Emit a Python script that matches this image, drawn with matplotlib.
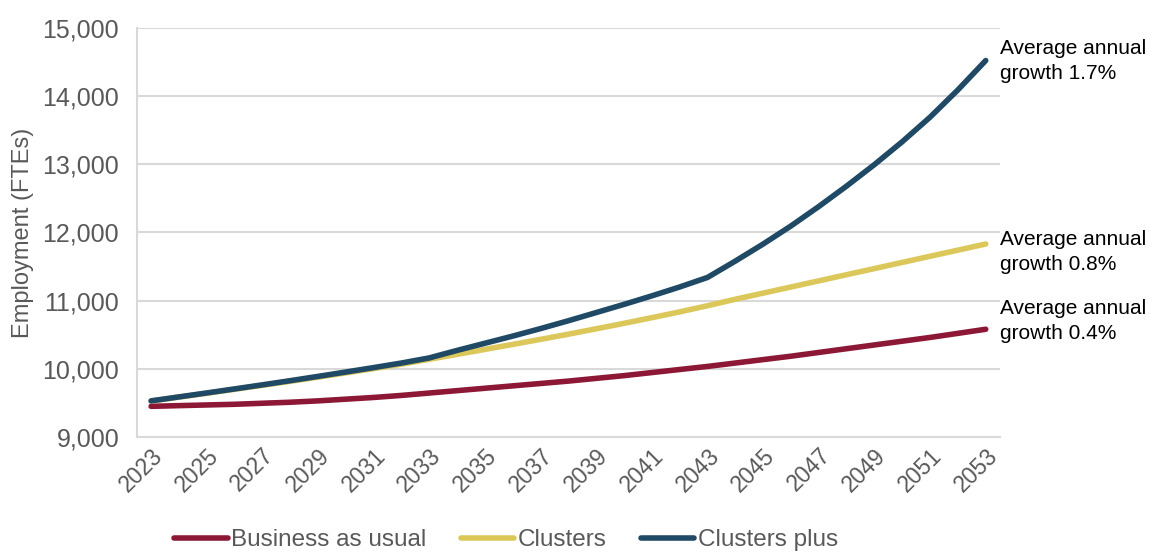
import matplotlib.pyplot as plt
from matplotlib.ticker import FuncFormatter, MultipleLocator

plt.rcParams['font.family'] = ['Liberation Sans', 'DejaVu Sans']

years = list(range(2023, 2054))

business_as_usual = [
    9450, 9460, 9470, 9480, 9495, 9510, 9530, 9555, 9580, 9610,
    9645, 9680, 9715, 9750, 9785, 9820, 9860, 9900, 9945, 9990,
    10035, 10085, 10135, 10185, 10240, 10295, 10350, 10405, 10460, 10520,
    10580,
]
clusters = [
    9528, 9585, 9642, 9700, 9758, 9817, 9878, 9940, 10003, 10068,
    10140, 10212, 10285, 10358, 10432, 10508, 10587, 10667, 10750, 10835,
    10925, 11020, 11110, 11200, 11290, 11380, 11470, 11560, 11650, 11740,
    11830,
]
clusters_plus = [
    9530, 9588, 9646, 9705, 9765, 9826, 9889, 9953, 10018, 10085,
    10160, 10270, 10375, 10480, 10590, 10705, 10825, 10945, 11070, 11200,
    11340, 11580, 11830, 12095, 12380, 12680, 12995, 13330, 13690, 14090,
    14520,
]

series_names = ['Business as usual', 'Clusters', 'Clusters plus']
series_colors = ['#8C1836', '#DCC85A', '#1F4964']
growth_labels = ['Average annual\ngrowth 0.4%',
                 'Average annual\ngrowth 0.8%',
                 'Average annual\ngrowth 1.7%']
label_offsets = [6, -6, 0]  # points, keeps the notes apart

fig = plt.figure(figsize=(11.53, 5.56), dpi=100)
ax = fig.add_axes([0.119, 0.214, 0.748, 0.736])

all_series = [business_as_usual, clusters, clusters_plus]
for values, name, color in zip(all_series, series_names, series_colors):
    ax.plot(years, values, color=color, linewidth=4,
            solid_capstyle='round', solid_joinstyle='round', label=name)

for values, text, dy in zip(all_series, growth_labels, label_offsets):
    ax.annotate(text, xy=(2053.5, values[-1]), xytext=(0, dy),
                textcoords='offset points', ha='left', va='center',
                fontsize=15, color='black', linespacing=1.4,
                annotation_clip=False)

ax.set_xlim(2022.5, 2053.5)
ax.set_ylim(9000, 15000)
ax.yaxis.set_major_locator(MultipleLocator(1000))
ax.yaxis.set_major_formatter(FuncFormatter(lambda v, _: f'{v:,.0f}'))
ax.set_xticks(years[::2])
ax.set_xticklabels([str(y) for y in years[::2]], rotation=45,
                   ha='right', rotation_mode='anchor')

ax.grid(axis='y', color='#D9D9D9', linewidth=1.5)
ax.set_axisbelow(True)
for side in ['top', 'right']:
    ax.spines[side].set_visible(False)
for side in ['left', 'bottom']:
    ax.spines[side].set_color('#D9D9D9')
    ax.spines[side].set_linewidth(1.5)

ax.tick_params(axis='both', length=0, colors='#595959')
ax.tick_params(axis='x', pad=5, labelsize=16.5)
ax.tick_params(axis='y', pad=13, labelsize=18)
ax.set_ylabel('Employment (FTEs)', fontsize=17, color='#595959', labelpad=6)

fig.legend(loc='center', bbox_to_anchor=(0.439, 0.028), ncol=3,
           frameon=False, fontsize=17.5, handlelength=2.2, handletextpad=0.15,
           columnspacing=1.4, labelcolor='#595959', borderpad=0.1)

fig.savefig('out.png', dpi=100)
plt.close(fig)
